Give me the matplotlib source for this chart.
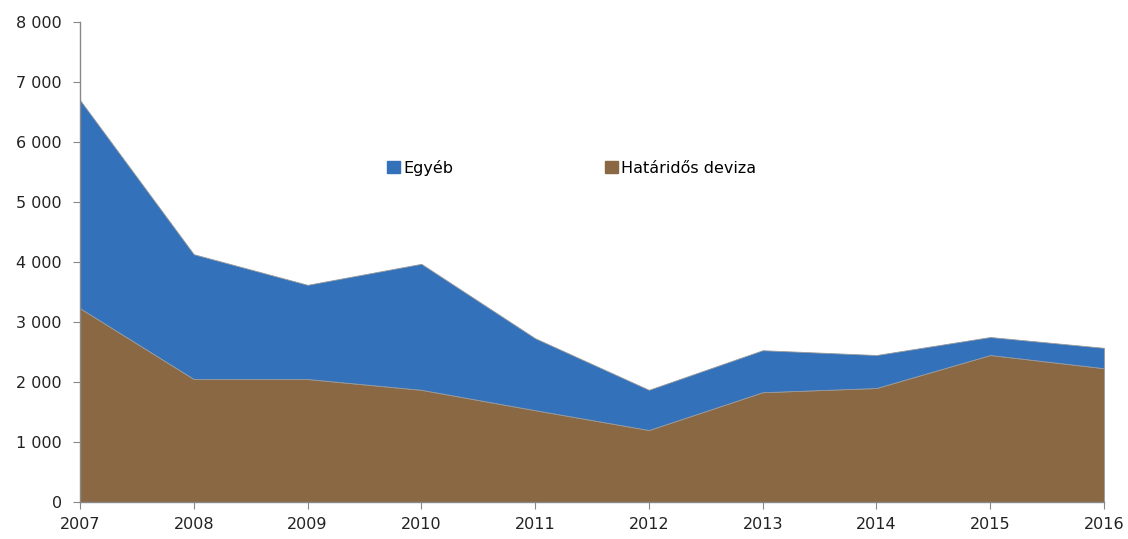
import numpy as np
import matplotlib.pyplot as plt
from matplotlib.patches import Patch
from matplotlib.ticker import FuncFormatter

years = [2007, 2008, 2009, 2010, 2011, 2012, 2013, 2014, 2015, 2016]
hatarido = [3230, 2050, 2050, 1870, 1530, 1200, 1830, 1900, 2450, 2230]
egyeb = [3470, 2080, 1570, 2100, 1200, 670, 700, 550, 300, 340]

BLUE = '#3372BA'
BROWN = '#8A6844'
AXIS = '#888888'

fig = plt.figure(figsize=(11.28, 5.39), dpi=100)
ax = fig.add_axes([0.0709, 0.0686, 0.9078, 0.8906])

ax.stackplot(years, hatarido, egyeb, colors=[BROWN, BLUE],
             edgecolor='#9a9a9a', linewidth=0.6)

ax.set_xlim(2007, 2016)
ax.set_ylim(0, 8000)
ax.set_xticks(years)
ax.set_yticks(np.arange(0, 8001, 1000))
ax.yaxis.set_major_formatter(FuncFormatter(lambda v, p: f"{int(v):,}".replace(',', ' ')))

for side in ['top', 'right']:
    ax.spines[side].set_visible(False)
for side in ['left', 'bottom']:
    ax.spines[side].set_color(AXIS)
    ax.spines[side].set_linewidth(1.0)

ax.tick_params(axis='both', colors=AXIS, labelcolor='#222222', labelsize=11.5, length=5)
ax.tick_params(axis='x', pad=6)
ax.tick_params(axis='y', pad=8)

handles = [Patch(color=BLUE, label='Egyéb'), Patch(color=BROWN, label='Határidős deviza')]
ax.legend(handles=handles, ncol=2, frameon=False, fontsize=11.5,
          loc='center', bbox_to_anchor=(0.48, 0.696),
          handlelength=0.8, handleheight=0.8, handletextpad=0.2, columnspacing=9.5)

fig.savefig('out.png', dpi=100)
